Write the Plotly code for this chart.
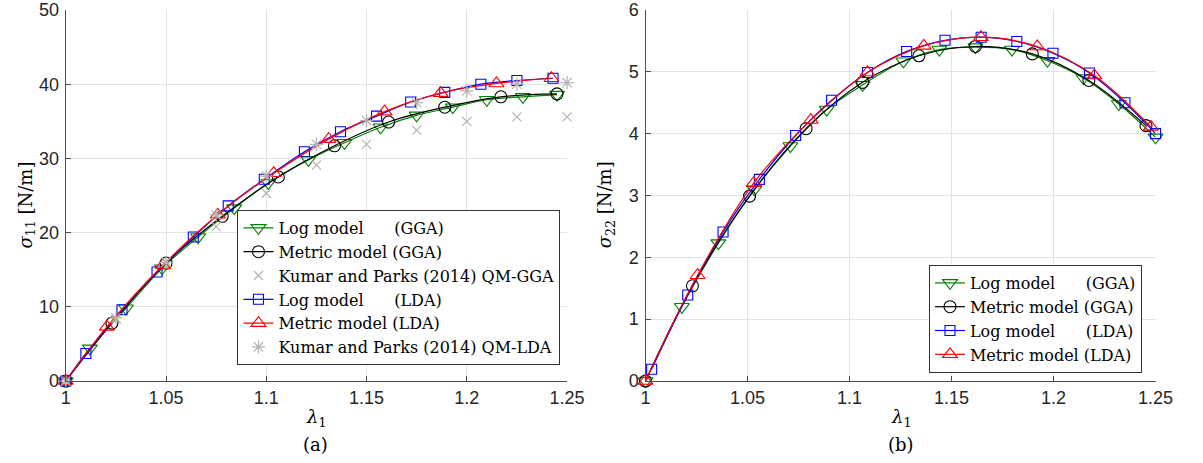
import plotly.graph_objects as go

# ---------------- data: panel (a) sigma_11 ----------------
lam_log_gga_a = [1.0, 1.012, 1.030, 1.048, 1.066, 1.084, 1.101, 1.121, 1.139, 1.157, 1.175, 1.193, 1.210, 1.228, 1.245]
s11_log_gga = [0, 4.4, 9.8, 15.2, 19.4, 23.3, 26.7, 29.8, 32.1, 34.2, 35.8, 36.9, 37.9, 38.3, 38.6]

lam_met_gga_a = [1.0, 1.023, 1.050, 1.078, 1.106, 1.134, 1.161, 1.189, 1.217, 1.245]
s11_met_gga = [0, 7.8, 15.9, 22.2, 27.5, 31.7, 34.9, 36.9, 38.3, 38.7]

lam_log_lda_a = [1.0, 1.010, 1.028, 1.0455, 1.0636, 1.081, 1.099, 1.119, 1.137, 1.155, 1.172, 1.189, 1.207, 1.225, 1.243]
s11_log_lda = [0, 3.7, 9.6, 14.7, 19.4, 23.6, 27.2, 30.9, 33.6, 35.7, 37.6, 38.9, 40.0, 40.5, 40.8]

lam_met_lda_a = [1.0, 1.0205, 1.0484, 1.0758, 1.1037, 1.1311, 1.159, 1.1869, 1.2148, 1.2422]
s11_met_lda = [0, 7.3, 15.6, 22.4, 28.0, 32.6, 36.3, 38.8, 40.1, 40.8]

lam_qm = [1.0, 1.025, 1.05, 1.075, 1.1, 1.125, 1.15, 1.175, 1.2, 1.225, 1.25]
s11_qm_gga = [0, 8.3, 15.5, 20.8, 25.3, 29.1, 31.9, 33.8, 35.0, 35.6, 35.6]
s11_qm_lda = [0, 8.5, 16.0, 22.4, 27.6, 31.9, 35.1, 37.5, 39.1, 40.0, 40.2]

# ---------------- data: panel (b) sigma_22 ----------------
lam_log_gga_b = [1.0, 1.0178, 1.0357, 1.0534, 1.071, 1.0888, 1.1064, 1.1264, 1.144, 1.1617, 1.1796, 1.197, 1.2146, 1.232, 1.250]
s22_log_gga = [0, 1.20, 2.23, 3.10, 3.80, 4.39, 4.79, 5.17, 5.36, 5.40, 5.36, 5.18, 4.90, 4.48, 3.94]

lam_met_gga_b = [1.0, 1.023, 1.051, 1.0787, 1.1064, 1.134, 1.1617, 1.1896, 1.2173, 1.2453]
s22_met_gga = [0, 1.54, 2.99, 4.08, 4.83, 5.26, 5.41, 5.29, 4.86, 4.13]

lam_log_lda_b = [1.003, 1.0207, 1.038, 1.0558, 1.0736, 1.0912, 1.1088, 1.1280, 1.1468, 1.1645, 1.182, 1.1997, 1.2176, 1.235, 1.250]
s22_log_lda = [0.19, 1.39, 2.41, 3.26, 3.97, 4.54, 4.99, 5.33, 5.51, 5.56, 5.49, 5.30, 4.98, 4.50, 4.00]

lam_met_lda_b = [1.0, 1.0255, 1.053, 1.081, 1.1088, 1.1364, 1.1644, 1.192, 1.220, 1.2477]
s22_met_lda = [0, 1.71, 3.20, 4.22, 4.99, 5.42, 5.56, 5.41, 4.94, 4.11]

# ---------------- ticks / labels ----------------
x_ticks = [1.0, 1.05, 1.1, 1.15, 1.2, 1.25]
x_ticktext = ["1", "1.05", "1.1", "1.15", "1.2", "1.25"]
y_ticks_a = [0, 10, 20, 30, 40, 50]
y_ticks_b = [0, 1, 2, 3, 4, 5, 6]

NBSP = "\u00a0"
names_a = [
    "Log model" + NBSP * 6 + "(GGA)",
    "Metric model (GGA)",
    "Kumar and Parks (2014) QM-GGA",
    "Log model" + NBSP * 6 + "(LDA)",
    "Metric model (LDA)",
    "Kumar and Parks (2014) QM-LDA",
]
names_b = [names_a[0], names_a[1], names_a[3], names_a[4]]

GREEN = "#008000"
BLACK = "#000000"
BLUE = "#0000ff"
RED = "#ff0000"
GRAY = "#b3b3b3"

SERIF = "DejaVu Serif"
SANS = "Liberation Sans"

fig = go.Figure()


def model_trace(x, y, name, color, symbol, size, xa, ya, legend):
    return go.Scatter(
        x=x, y=y, name=name, mode="lines+markers",
        line=dict(color=color, width=1.2, shape="spline", smoothing=1.0),
        marker=dict(symbol=symbol, size=size, color=color, line=dict(color=color, width=1.1)),
        xaxis=xa, yaxis=ya, legend=legend, cliponaxis=False,
    )


def qm_trace(x, y, name, symbol, size, xa, ya, legend):
    return go.Scatter(
        x=x, y=y, name=name, mode="markers",
        marker=dict(symbol=symbol, size=size, color=GRAY, line=dict(color=GRAY, width=1.2)),
        xaxis=xa, yaxis=ya, legend=legend, cliponaxis=False,
    )


# panel (a)
fig.add_trace(model_trace(lam_log_gga_a, s11_log_gga, names_a[0], GREEN, "triangle-down-open", 13, "x", "y", "legend"))
fig.add_trace(model_trace(lam_met_gga_a, s11_met_gga, names_a[1], BLACK, "circle-open", 12, "x", "y", "legend"))
fig.add_trace(qm_trace(lam_qm, s11_qm_gga, names_a[2], "x-thin-open", 9, "x", "y", "legend"))
fig.add_trace(model_trace(lam_log_lda_a, s11_log_lda, names_a[3], BLUE, "square-open", 10, "x", "y", "legend"))
fig.add_trace(model_trace(lam_met_lda_a, s11_met_lda, names_a[4], RED, "triangle-up-open", 13, "x", "y", "legend"))
fig.add_trace(qm_trace(lam_qm, s11_qm_lda, names_a[5], "asterisk-open", 11, "x", "y", "legend"))

# panel (b)
fig.add_trace(model_trace(lam_log_gga_b, s22_log_gga, names_b[0], GREEN, "triangle-down-open", 13, "x2", "y2", "legend2"))
fig.add_trace(model_trace(lam_met_gga_b, s22_met_gga, names_b[1], BLACK, "circle-open", 12, "x2", "y2", "legend2"))
fig.add_trace(model_trace(lam_log_lda_b, s22_log_lda, names_b[2], BLUE, "square-open", 10, "x2", "y2", "legend2"))
fig.add_trace(model_trace(lam_met_lda_b, s22_met_lda, names_b[3], RED, "triangle-up-open", 13, "x2", "y2", "legend2"))

W, H = 1203, 463
TOP, BOT = 10, 381          # plot-area pixel rows
PH = BOT - TOP


def py(p):
    """pixel row -> paper y (paper is relative to plot area)"""
    return (BOT - p) / PH


AX_COLOR = "#4d4d4d"
GRID = "#e3e3e3"

axis_common = dict(
    showline=True, linecolor=AX_COLOR, linewidth=1.3,
    ticks="inside", ticklen=5, tickcolor=AX_COLOR, tickwidth=1,
    showgrid=True, gridcolor=GRID, gridwidth=1,
    zeroline=False, mirror=False,
    tickfont=dict(family=SANS, size=18, color="#262626"),
)

fig.update_layout(
    width=W, height=H,
    margin=dict(l=0, r=0, t=TOP, b=H - BOT),
    paper_bgcolor="white", plot_bgcolor="white",
    xaxis=dict(domain=[62 / W, 573 / W], range=[1.0, 1.25], tickvals=x_ticks, ticktext=x_ticktext,
               anchor="y", ticklabelstandoff=0, **axis_common),
    yaxis=dict(domain=[0, 1], range=[0, 50], tickvals=y_ticks_a, anchor="x", ticklabelstandoff=2, **axis_common),
    xaxis2=dict(domain=[653 / W, 1173 / W], range=[1.0, 1.25], tickvals=x_ticks, ticktext=x_ticktext,
                anchor="y2", ticklabelstandoff=0, **axis_common),
    yaxis2=dict(domain=[0, 1], range=[0, 6], tickvals=y_ticks_b, anchor="x2", ticklabelstandoff=2, **axis_common),
    legend=dict(x=237 / W, y=py(210), xanchor="left", yanchor="top",
                bgcolor="white", bordercolor="#333333", borderwidth=1,
                font=dict(family=SERIF, size=16, color="black"), tracegroupgap=0),
    legend2=dict(x=942 / W, y=py(265), xanchor="left", yanchor="top",
                 bgcolor="white", bordercolor="#333333", borderwidth=1,
                 font=dict(family=SERIF, size=16, color="black"), tracegroupgap=0),
    showlegend=True,
)

label_font = dict(family=SERIF, size=18, color="black")
annots = [
    dict(text="<i>σ</i><sub>11</sub> [N/m]", x=22 / W, y=py(205), textangle=-90),
    dict(text="<i>σ</i><sub>22</sub> [N/m]", x=613 / W, y=py(205), textangle=-90),
    dict(text="<i>λ</i><sub>1</sub>", x=317 / W, y=py(418)),
    dict(text="<i>λ</i><sub>1</sub>", x=913 / W, y=py(418)),
    dict(text="(a)", x=317 / W, y=py(444)),
    dict(text="(b)", x=913 / W, y=py(444)),
]
for a in annots:
    fig.add_annotation(xref="paper", yref="paper", showarrow=False, xanchor="center", yanchor="middle",
                       font=label_font, **a)

fig.write_html("out.html")
